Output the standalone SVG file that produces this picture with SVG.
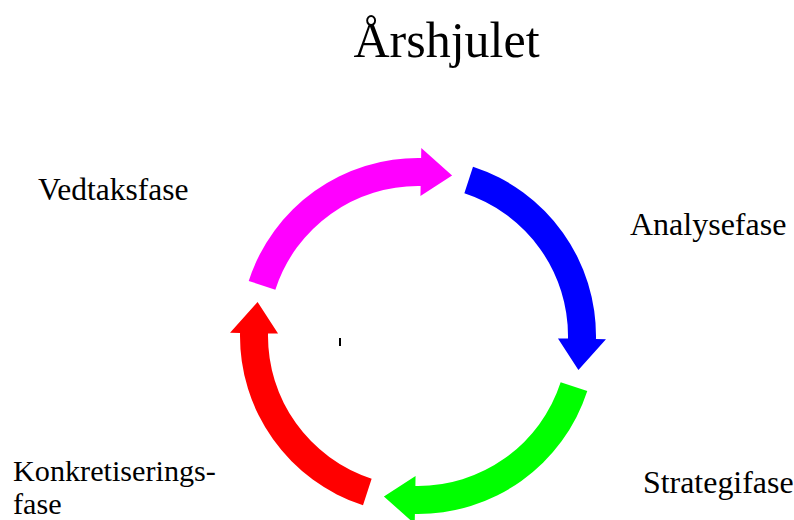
<svg xmlns="http://www.w3.org/2000/svg" width="794" height="520" viewBox="0 0 794 520">
<defs>
<style>
text{font-family:"Liberation Serif","Times New Roman",serif;fill:#000}
.lbl{font-size:31px}
</style>
<path id="arc" d="M178,0 A178,178 0 0,1 52.04,170.22 L54.97,179.78 L17.14,163.10 L40.93,133.88 L43.86,143.45 A150,150 0 0,0 150,0 Z"/>
</defs>
<rect width="794" height="520" fill="#fff"/>
<text x="446.5" y="57" font-size="50" text-anchor="middle">Årshjulet</text>
<g id="connectors">
<g id="analyse-arrow"><use href="#arc" fill="#0000ff" transform="translate(418,336) rotate(288)"/></g>
<g id="strategi-arrow"><use href="#arc" fill="#00ff00" transform="translate(418,336) rotate(18)"/></g>
<g id="konkretisering-arrow"><use href="#arc" fill="#ff0000" transform="translate(418,336) rotate(108)"/></g>
<g id="vedtak-arrow"><use href="#arc" fill="#ff00ff" transform="translate(418,336) rotate(198)"/></g>
</g>
<g id="vedtaksfase"><text class="lbl" x="38" y="200" style="font-size:31.5px">Vedtaksfase</text></g>
<g id="analysefase"><text class="lbl" x="630" y="235" style="font-size:32px">Analysefase</text></g>
<g id="strategifase"><text class="lbl" x="643" y="493" style="font-size:31.9px">Strategifase</text></g>
<g id="konkretiseringsfase"><text class="lbl" x="13" y="481" style="font-size:30.2px">Konkretiserings-<tspan x="13" y="514">fase</tspan></text></g>
<rect x="339" y="338" width="2" height="8" fill="#000"/>
</svg>
